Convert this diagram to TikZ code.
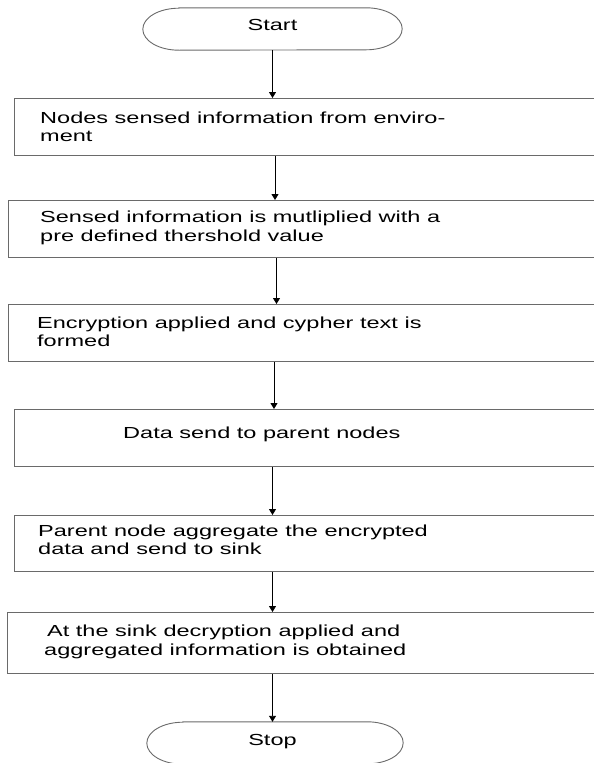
\documentclass[tikz,border=0pt]{standalone}
\usepackage{fontspec}
\usetikzlibrary{arrows.meta,calc}
\newfontfamily\flowfont[FakeStretch=1.47]{Liberation Sans}
\definecolor{edgegray}{HTML}{6A6A6A}
\tikzset{
  stepbox/.style={draw=edgegray, line width=0.9pt, rectangle, inner sep=0pt,
    anchor=north west, minimum width=590pt},
  steptext/.style={font=\flowfont\fontsize{16}{18.5}\selectfont, align=left,
    inner sep=0pt, anchor=west, text=black},
  termtext/.style={font=\flowfont\fontsize{16}{18.5}\selectfont, inner sep=0pt, text=black},
  termshape/.style={rectangle, draw=none, inner sep=0pt, minimum height=42pt},
  outline/.style={draw=edgegray, line width=0.9pt},
  arr/.style={draw=black, line width=0.9pt, -{Triangle[width=7pt,length=6pt]}}
}
\begin{document}
\begin{tikzpicture}[x=1pt,y=1pt]
  \useasboundingbox (0,0) rectangle (594,-763);
  \fill[white] (0,0) rectangle (594,-763);

  % terminals (stadium outline drawn around a named frame)
  \node[termshape, minimum width=259pt] (st) at (272.5,-29) {};
  \node[termtext] (stt) at (272.5,-25) {Start};
  \draw[outline] ([xshift=36pt]st.north west) -- ([xshift=-36pt]st.north east)
    arc[start angle=90, end angle=-90, x radius=36pt, y radius=21pt]
    -- ([xshift=36pt]st.south west)
    arc[start angle=270, end angle=90, x radius=36pt, y radius=21pt] -- cycle;

  \node[termshape, minimum width=256pt] (sp) at (275,-743) {};
  \node[termtext] (spt) at (272.5,-742) {Stop};
  \draw[outline] ([xshift=36pt]sp.north west) -- ([xshift=-36pt]sp.north east)
    arc[start angle=90, end angle=-90, x radius=36pt, y radius=21pt]
    -- ([xshift=36pt]sp.south west)
    arc[start angle=270, end angle=90, x radius=36pt, y radius=21pt] -- cycle;

  % process steps
  \node[stepbox, minimum height=57pt] (b1) at (14,-98) {};
  \node[steptext] (t1) at (40,-127) {Nodes sensed information from enviro-\\ment};

  \node[stepbox, minimum height=57pt] (b2) at (8,-200) {};
  \node[steptext] (t2) at (40,-228) {Sensed information is mutliplied with a\\pre defined thershold value};

  \node[stepbox, minimum height=57pt] (b3) at (8,-304) {};
  \node[steptext] (t3) at (37,-332) {Encryption applied and cypher text is\\formed};

  \node[stepbox, minimum height=57pt] (b4) at (14,-409) {};
  \node[steptext] (t4) at (123,-434) {Data send to parent nodes};

  \node[stepbox, minimum height=56pt] (b5) at (14,-515) {};
  \node[steptext] (t5) at (38,-540) {Parent node aggregate the encrypted\\data and send to sink};

  \node[stepbox, minimum height=61pt] (b6) at (7,-612) {};
  \node[steptext] (t6) at (44,-642) {\hspace*{3pt}At the sink decryption applied and\\aggregated information is obtained};

  % connectors
  \draw[arr] (st.south) -- (b1.north -| st.south);
  \draw[arr] ($(b1.south -| st.south)+(2.5,0)$) -- ($(b2.north -| st.south)+(2.5,0)$);
  \draw[arr] ($(b2.south -| st.south)+(4,0)$) -- ($(b3.north -| st.south)+(4,0)$);
  \draw[arr] ($(b3.south -| st.south)+(1.5,0)$) -- ($(b4.north -| st.south)+(1.5,0)$);
  \draw[arr] (b4.south -| st.south) -- (b5.north -| st.south);
  \draw[arr] (b5.south -| st.south) -- (b6.north -| st.south);
  \draw[arr] (b6.south -| st.south) -- (sp.north -| st.south);
\end{tikzpicture}
\end{document}
